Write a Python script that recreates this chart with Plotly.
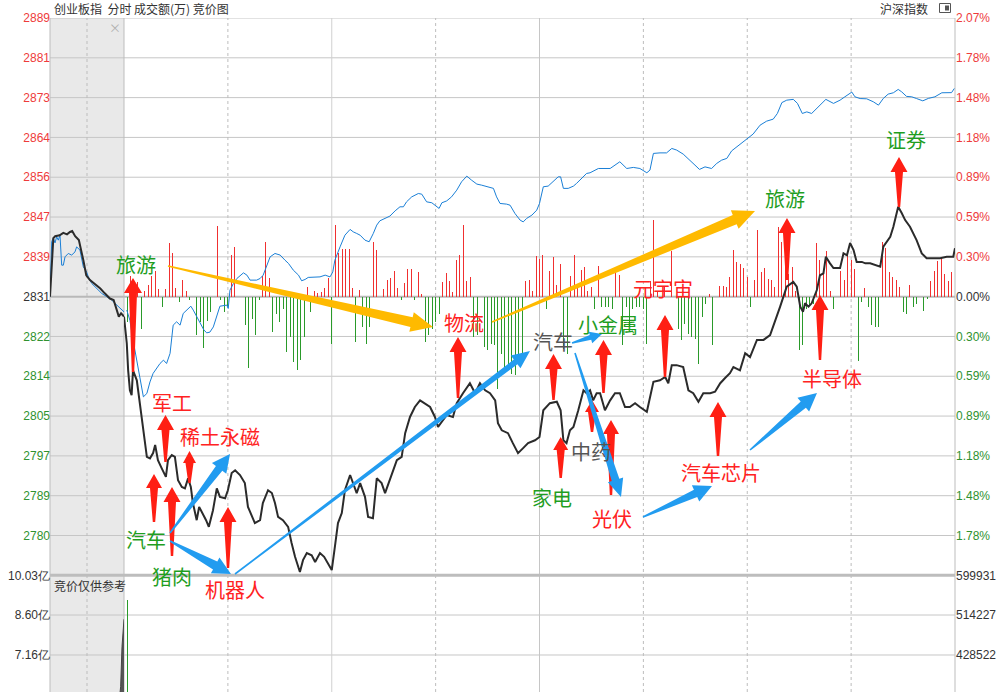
import math
import plotly.graph_objects as go

# ---------------- data ----------------
left_ticks = ["2889", "2881", "2873", "2864", "2856", "2847", "2839", "2831",
              "2822", "2814", "2805", "2797", "2789", "2780"]
right_ticks = ["2.07%", "1.78%", "1.48%", "1.18%", "0.89%", "0.59%", "0.30%", "0.00%",
               "0.30%", "0.59%", "0.89%", "1.18%", "1.48%", "1.78%"]
vol_left_ticks = ["10.03亿", "8.60亿", "7.16亿", "5.73亿"]
vol_left_vals = [10.03, 8.60, 7.16, 5.73]
vol_right_ticks = ["599931", "514227", "428522", "342818"]
vol_right_vals = [599931, 514227, 428522, 342818]

PREV_CLOSE = 2831.0
PRICE_STEP = 8.37
PCT_STEP = 0.296

# ChiNext index during call auction (minutes after 9:15, price)
cyb_auction = [(0, 2831.0), (0.2, 2837.6), (0.45, 2843.3), (0.7, 2843.7), (1.3, 2843.9),
               (1.8, 2844.4), (2.3, 2844.1), (2.7, 2844.6), (3.0, 2844.8), (3.4, 2843.7),
               (3.9, 2842.9), (4.5, 2838.7), (4.9, 2835.5), (5.4, 2834.5), (6.3, 2833.4),
               (6.8, 2832.7), (7.4, 2831.7), (8.1, 2830.6), (8.6, 2830.3), (9.0, 2828.2),
               (9.3, 2826.8), (9.6, 2827.5), (10.0, 2826.8)]
# reference index during call auction (minutes after 9:15, % change)
hs_auction = [(0, 0.0), (0.23, 0.41), (0.45, 0.435), (0.68, 0.40), (0.9, 0.445), (1.12, 0.42),
              (1.35, 0.457), (1.58, 0.234), (1.8, 0.234), (2.03, 0.296), (2.47, 0.321),
              (2.93, 0.309), (3.38, 0.333), (3.6, 0.37), (4.05, 0.346), (4.5, 0.222),
              (4.96, 0.184), (5.18, 0.147), (5.64, 0.098), (6.31, 0.061), (6.99, 0.024),
              (7.66, 0.0), (8.34, -0.026), (8.78, -0.05), (9.23, -0.076), (9.69, -0.10),
              (10.0, -0.113)]

# ChiNext index in trading session (minute index 0..240, price)
cyb_trade = [(0, 2826.8), (0.3, 2825.0), (0.8, 2821.2), (1.2, 2815.5), (1.7, 2811.3), (2.2, 2810.3),
             (2.6, 2815.5), (3.7, 2813.4), (4.6, 2808.6), (5.5, 2802.9), (6.6, 2797.3), (7.5, 2797.0),
             (8.4, 2798.1), (9.0, 2799.8), (9.8, 2796.6), (10.9, 2794.9), (12.1, 2793.1), (12.7, 2796.6),
             (13.8, 2797.7), (14.7, 2797.3), (15.6, 2792.4), (16.7, 2791.0), (17.6, 2790.7), (18.5, 2792.8),
             (19.3, 2791.0), (19.9, 2787.6), (21.0, 2784.0), (21.7, 2786.8), (22.7, 2785.5), (23.7, 2784.0),
             (24.5, 2782.6), (25.7, 2786.1), (26.8, 2790.7), (27.7, 2788.9), (29.2, 2788.6), (30.0, 2790.3),
             (31.1, 2793.9), (32.1, 2794.5), (33.5, 2793.5), (34.9, 2791.8), (35.8, 2786.8), (36.9, 2784.7),
             (37.8, 2783.4), (39.3, 2784.0), (40.1, 2787.6), (41.6, 2790.3), (42.7, 2789.7), (43.6, 2787.6),
             (44.5, 2784.7), (45.9, 2784.0), (47.4, 2782.6), (48.4, 2779.2), (49.4, 2776.3), (50.8, 2773.1),
             (51.7, 2775.6), (52.8, 2777.1), (54.2, 2776.6), (55.2, 2775.2), (56.6, 2777.1), (57.8, 2776.3),
             (58.9, 2775.0), (60.0, 2773.5), (60.9, 2778.4), (61.8, 2783.4), (62.9, 2785.5), (63.8, 2790.3),
             (65.3, 2793.5), (66.1, 2791.8), (67.2, 2789.7), (68.2, 2791.8), (69.6, 2788.9), (70.5, 2784.7),
             (71.9, 2784.4), (73.0, 2792.8), (74.4, 2791.8), (75.4, 2789.7), (76.8, 2792.4), (78.8, 2796.6),
             (80.2, 2797.3), (81.2, 2802.3), (82.6, 2805.7), (84.0, 2807.8), (85.5, 2809.2), (86.9, 2808.6),
             (88.4, 2807.8), (89.8, 2805.7), (90.7, 2803.6), (91.8, 2804.7), (93.2, 2806.1), (95.0, 2805.7),
             (96.1, 2808.6), (97.9, 2810.7), (99.9, 2812.8), (101.4, 2810.7), (102.8, 2812.8), (104.3, 2811.3),
             (105.7, 2810.7), (107.2, 2809.2), (108.0, 2804.4), (109.1, 2802.9), (110.9, 2802.3), (112.3, 2800.2),
             (113.8, 2798.1), (115.2, 2799.1), (116.7, 2800.2), (118.7, 2800.8), (119.6, 2801.2), (120.0, 2801.5),
             (121.1, 2807.1), (123.0, 2808.6), (125.0, 2808.9), (126.1, 2807.1), (126.9, 2800.8), (127.8, 2800.2),
             (128.8, 2802.9), (129.8, 2803.6), (131.2, 2807.1), (132.7, 2811.3), (133.6, 2810.7), (134.6, 2811.3),
             (135.5, 2809.2), (136.5, 2810.7), (137.5, 2810.7), (138.9, 2807.1), (140.4, 2809.2), (141.8, 2810.7),
             (143.2, 2810.7), (144.7, 2807.8), (146.1, 2807.8), (147.6, 2808.6), (149.0, 2807.8), (151.0, 2806.8),
             (152.9, 2813.1), (154.8, 2813.4), (156.3, 2814.1), (157.2, 2812.8), (158.2, 2816.6), (159.6, 2816.6),
             (161.5, 2816.2), (163.0, 2811.3), (164.4, 2810.7), (165.9, 2808.9), (167.3, 2810.7), (169.3, 2810.7),
             (170.7, 2811.0), (172.2, 2812.8), (173.6, 2813.9), (175.0, 2814.9), (176.0, 2816.2), (177.9, 2815.5),
             (179.4, 2819.1), (180.8, 2818.3), (182.8, 2821.9), (184.7, 2821.9), (186.6, 2822.9), (188.5, 2826.7),
             (189.5, 2828.9), (191.4, 2833.1), (193.3, 2834.1), (194.3, 2833.1), (195.3, 2828.9), (196.1, 2827.8),
             (196.7, 2829.6), (197.7, 2828.9), (198.6, 2829.6), (200.1, 2832.4), (201.0, 2835.5), (202.0, 2835.9),
             (202.7, 2839.4), (203.9, 2838.0), (204.9, 2837.0), (206.8, 2837.0), (207.8, 2840.1), (208.8, 2839.7),
             (209.7, 2842.3), (210.7, 2840.8), (211.6, 2838.3), (213.1, 2838.3), (214.1, 2838.0), (215.5, 2838.0),
             (217.4, 2837.6), (218.4, 2837.3), (219.3, 2841.5), (221.3, 2843.6), (222.2, 2845.7), (223.6, 2849.9),
             (224.6, 2848.6), (225.6, 2847.1), (227.0, 2845.7), (228.9, 2842.9), (230.4, 2840.1), (231.8, 2839.1),
             (235.7, 2839.1), (237.6, 2839.4), (239.5, 2839.4), (240.0, 2841.2)]

# reference index in trading session (minute index, % change)
hs_trade = [(0.8, -0.10), (1.7, -0.175), (2.6, -0.32), (3.7, -0.47), (4.6, -0.584), (5.6, -0.745),
            (6.6, -0.72), (7.5, -0.634), (8.4, -0.571), (9.4, -0.534), (10.4, -0.497), (11.4, -0.472),
            (12.3, -0.497), (13.3, -0.422), (13.8, -0.311), (14.2, -0.212), (15.2, -0.187), (16.2, -0.212),
            (17.1, -0.125), (18.1, -0.10), (19.3, -0.071), (20.0, -0.10), (21.0, -0.15), (21.9, -0.20),
            (23.1, -0.249), (23.9, -0.269), (24.8, -0.264), (25.8, -0.225), (26.8, -0.138), (27.7, -0.071),
            (29.7, -0.063), (30.1, -0.088), (30.6, 0.048), (31.6, 0.098), (32.6, 0.135), (34.5, 0.177),
            (35.5, 0.16), (36.4, 0.123), (38.3, 0.123), (39.3, 0.135), (40.2, 0.16), (41.2, 0.222),
            (42.2, 0.296), (43.6, 0.321), (45.1, 0.309), (46.5, 0.271), (47.5, 0.247), (48.9, 0.197),
            (50.4, 0.16), (51.3, 0.118), (52.3, 0.128), (53.2, 0.143), (55.2, 0.147), (56.6, 0.147),
            (58.1, 0.16), (59.5, 0.147), (60.3, 0.184), (60.9, 0.271), (62.4, 0.37), (63.8, 0.457),
            (65.3, 0.50), (66.2, 0.482), (67.2, 0.47), (68.2, 0.457), (69.6, 0.42), (70.8, 0.408),
            (72.0, 0.47), (73.0, 0.532), (73.9, 0.564), (75.4, 0.582), (76.8, 0.599), (78.3, 0.638),
            (79.7, 0.668), (80.7, 0.668), (81.6, 0.705), (83.1, 0.742), (85.0, 0.767), (86.0, 0.762),
            (87.4, 0.705), (88.9, 0.698), (89.8, 0.68), (91.0, 0.656), (91.8, 0.698), (93.2, 0.712),
            (94.6, 0.742), (96.1, 0.792), (97.5, 0.854), (99.0, 0.896), (100.4, 0.866), (101.9, 0.837),
            (103.3, 0.829), (104.8, 0.817), (106.7, 0.805), (107.6, 0.742), (108.6, 0.693), (110.5, 0.688),
            (111.5, 0.68), (112.9, 0.619), (114.4, 0.569), (115.3, 0.556), (116.3, 0.582), (117.8, 0.606),
            (119.2, 0.643), (120.0, 0.693), (121.1, 0.817), (122.5, 0.822), (124.0, 0.854), (125.4, 0.891),
            (126.1, 0.891), (126.9, 0.805), (128.3, 0.805), (129.8, 0.822), (130.7, 0.842), (132.2, 0.879),
            (133.6, 0.916), (134.6, 0.921), (137.0, 0.953), (140.4, 0.953), (143.2, 1.003), (145.2, 0.953),
            (147.1, 0.961), (149.0, 0.953), (151.0, 0.921), (151.9, 0.941), (152.9, 1.065), (154.8, 1.069),
            (156.7, 1.069), (158.2, 1.102), (159.6, 1.09), (161.5, 1.06), (163.5, 1.015), (164.9, 0.978),
            (166.2, 0.946), (167.8, 0.965), (169.7, 0.953), (171.2, 0.991), (172.6, 1.015), (174.1, 1.028),
            (175.5, 1.084), (177.0, 1.114), (178.9, 1.151), (180.6, 1.184), (181.7, 1.209), (183.7, 1.275),
            (185.6, 1.305), (187.5, 1.32), (188.7, 1.362), (190.0, 1.443), (191.4, 1.461), (193.3, 1.467),
            (194.5, 1.437), (195.9, 1.362), (197.2, 1.374), (198.6, 1.362), (200.1, 1.40), (201.5, 1.437),
            (202.7, 1.467), (204.9, 1.437), (206.8, 1.461), (208.2, 1.486), (210.2, 1.521), (211.1, 1.486),
            (212.6, 1.473), (214.5, 1.471), (216.4, 1.449), (217.9, 1.424), (219.3, 1.474), (220.7, 1.506),
            (222.2, 1.516), (223.6, 1.541), (224.6, 1.523), (226.0, 1.489), (227.5, 1.486), (228.9, 1.473),
            (230.7, 1.456), (232.3, 1.474), (234.2, 1.486), (236.2, 1.516), (239.0, 1.517), (239.8, 1.548)]

# per-minute net bars (+ red / - green), minute 0..240
net = [0, -25, 21, 14, 15, -32, 6, 12, 21, 26, 8, -10, 8, 54, 44, 9, -5, 17, 6, -3,
       0, -38, -25, -51, -24, -15, 0, 71, -3, -15, -9, 42, 50, 0, 0, -28, -71, -22, -38, -3,
       21, 55, 19, -35, -17, -25, -12, -55, -40, -65, -73, -63, -40, 10, -15, 6, 4, 5, 9, 19,
       -47, 72, 44, 48, 48, 48, 9, -45, 7, -30, -47, -30, 55, 47, 0, 8, 17, 19, 26, 9,
       -3, 14, 28, 28, -3, 25, 3, -45, -38, -32, -25, -17, 15, 24, 16, 5, 37, 42, 72, 16,
       20, -40, -38, 0, -50, -53, -47, -48, -92, -57, -70, -70, -77, -78, -60, -57, 16, 17, 6, 41,
       38, 42, -12, 26, 40, 12, 33, -52, -57, 21, 42, 13, 27, 30, 6, 10, -12, 31, -10, -10,
       -10, -12, 28, 22, -48, -10, -30, -12, -10, -10, -12, -47, 16, 77, 6, 0, 10, 0, 46, 0,
       -32, -43, -27, -37, -40, -42, -67, -20, -7, 3, -48, 0, 11, 11, 10, 20, 47, 35, 33, 29,
       20, -10, 17, 67, 25, 29, 18, 17, 10, 70, 55, 33, 23, 30, 6, -53, -48, -12, -8, -7,
       54, 37, 23, 46, 6, -12, 0, 26, 17, 44, 37, 28, -64, -5, 9, -10, -28, -30, -30, 55,
       49, 25, 20, 17, 10, -15, -17, 12, -10, -7, 0, -14, -2, 16, 26, 36, 40, 23, 16, 25, 75]

# auction turnover (亿) and trading minute volume
auc_vol_t = [9.35, 9.55, 9.73, 9.9, 10.0]
auc_vol = [5.5, 6.03, 7.46, 8.36, 8.45]
vol_m = [1]
vol_v = [546743]

# annotation labels: (text, px, py, colour key)
labels = [("旅游", 136, 264, "g"), ("军工", 172, 402, "r"), ("稀土永磁", 220, 436, "r"),
          ("汽车", 146, 539, "g"), ("猪肉", 172, 576, "g"), ("机器人", 235, 589, "r"),
          ("物流", 464, 322, "r"), ("汽车", 553, 342, "k"), ("小金属", 608, 324, "g"),
          ("元宇宙", 663, 289, "r"), ("中药", 591, 452, "k"), ("家电", 552, 498, "g"),
          ("光伏", 612, 518, "r"), ("汽车芯片", 721, 473, "r"), ("半导体", 832, 378, "r"),
          ("旅游", 785, 198, "g"), ("证券", 906, 139, "g")]

# ---------------- layout geometry ----------------
W, H = 1005, 692
ML, MR, MT, MB = 50, 50, 18, 0
PW, PH = W - ML - MR, H - MT - MB
SPLIT = 74 / PW                     # auction area width fraction
MAIN_BOT = (H - 575.3) / PH         # main panel bottom (paper)

RED = "#ee3b3b"
GREEN = "#2f922f"
DARK = "#333333"
LBL = {"g": "#1f9e1f", "r": "#ff2222", "k": "#555555"}


def px2paper(px, py):
    return (px - ML) / PW, (H - MB - py) / PH


def arrow_path(x0, y0, x1, y1, w0, w1, hw, hl):
    dx, dy = x1 - x0, y1 - y0
    L = math.hypot(dx, dy)
    ux, uy = dx / L, dy / L
    nx, ny = -uy, ux
    bx, by = x1 - ux * hl, y1 - uy * hl
    pts = [(x0 + nx * w0, y0 + ny * w0), (bx + nx * w1, by + ny * w1), (bx + nx * hw, by + ny * hw),
           (x1, y1), (bx - nx * hw, by - ny * hw), (bx - nx * w1, by - ny * w1),
           (x0 - nx * w0, y0 - ny * w0)]
    out = []
    for p in pts:
        a, b = px2paper(*p)
        out.append(f"{a:.5f},{b:.5f}")
    return "M " + " L ".join(out) + " Z"


fig = go.Figure()

# helper traces to create main subplots
fig.add_trace(go.Scatter(x=[], y=[], xaxis="x", yaxis="y", hoverinfo="skip"))
fig.add_trace(go.Scatter(x=[], y=[], xaxis="x2", yaxis="y5", hoverinfo="skip"))

# bars
fig.add_trace(go.Bar(x=list(range(len(net))), y=net, xaxis="x2", yaxis="y", width=0.29,
                     marker=dict(color=["#f03030" if v > 0 else "#2a9a2a" for v in net],
                                 line=dict(width=0)), hoverinfo="skip"))
# blue reference index
fig.add_trace(go.Scatter(x=[a for a, _ in hs_auction], y=[b for _, b in hs_auction],
                         xaxis="x", yaxis="y2", mode="lines",
                         line=dict(color="#1a7fd6", width=1)))
fig.add_trace(go.Scatter(x=[a for a, _ in hs_trade], y=[b for _, b in hs_trade],
                         xaxis="x2", yaxis="y2", mode="lines",
                         line=dict(color="#1a7fd6", width=1)))
# black ChiNext
fig.add_trace(go.Scatter(x=[a for a, _ in cyb_auction], y=[b for _, b in cyb_auction],
                         xaxis="x", yaxis="y3", mode="lines",
                         line=dict(color="#2b2b2b", width=2)))
fig.add_trace(go.Scatter(x=[a for a, _ in cyb_trade], y=[b for _, b in cyb_trade],
                         xaxis="x2", yaxis="y3", mode="lines",
                         line=dict(color="#2b2b2b", width=2)))
# lower panel
fig.add_trace(go.Scatter(x=auc_vol_t, y=auc_vol, xaxis="x", yaxis="y5", mode="lines",
                         fill="tozeroy", fillcolor="#555555", line=dict(color="#444444", width=1)))
fig.add_trace(go.Bar(x=vol_m, y=vol_v, xaxis="x2", yaxis="y6", width=0.32,
                     marker=dict(color="#2a9a2a", line=dict(width=0))))


def col(t, c):
    return f'<span style="color:{c}">{t}</span>'


left_text = [col(t, RED) if i < 7 else (col(t, DARK) if i == 7 else col(t, GREEN))
             for i, t in enumerate(left_ticks)]
right_text = [col(t, RED) if i < 7 else (col(t, DARK) if i == 7 else col(t, GREEN))
              for i, t in enumerate(right_ticks)]

tickfont = dict(family="Liberation Sans, Arial", size=12, color=DARK)
half_bar = (1 - MAIN_BOT) * PH / 2
lower_px = MAIN_BOT * PH

common_y = dict(showgrid=False, zeroline=False, showline=False, fixedrange=True)
fig.update_layout(
    width=W, height=H, autosize=False, showlegend=False,
    margin=dict(l=ML, r=MR, t=MT, b=MB, pad=0),
    paper_bgcolor="white", plot_bgcolor="rgba(0,0,0,0)",
    bargap=0,
    xaxis=dict(domain=[0, SPLIT], range=[0, 10], visible=False, anchor="y", fixedrange=True),
    xaxis2=dict(domain=[SPLIT, 1], range=[0, 240], visible=False, anchor="y", fixedrange=True),
    yaxis=dict(domain=[MAIN_BOT, 1], range=[-half_bar, half_bar], showticklabels=False,
               anchor="x", **common_y),
    yaxis2=dict(overlaying="y", range=[-7 * PCT_STEP, 7 * PCT_STEP], side="right",
                anchor="free", position=1,
                tickvals=[(7 - i) * PCT_STEP for i in range(14)], ticktext=right_text,
                tickfont=tickfont, ticks="", **common_y),
    yaxis3=dict(overlaying="y", range=[PREV_CLOSE - 7 * PRICE_STEP, PREV_CLOSE + 7 * PRICE_STEP],
                side="left", anchor="free", position=0,
                tickvals=[PREV_CLOSE + (7 - i) * PRICE_STEP for i in range(14)], ticktext=left_text,
                tickfont=tickfont, ticks="", **common_y),
    yaxis5=dict(domain=[0, MAIN_BOT],
                range=[10.03 - lower_px / 39.8 * 1.4333, 10.03], side="left", anchor="free", position=0,
                tickvals=vol_left_vals, ticktext=vol_left_ticks, tickfont=tickfont, ticks="", **common_y),
    yaxis6=dict(overlaying="y5", range=[599931 - lower_px / 39.8 * 85704.5, 599931], side="right",
                anchor="free", position=1,
                tickvals=vol_right_vals, ticktext=vol_right_ticks, tickfont=tickfont, ticks="", **common_y),
)

shapes = []
GRID = "#c6c6c6"
# auction shading
shapes.append(dict(type="rect", xref="paper", yref="paper", x0=0, x1=SPLIT, y0=0, y1=1,
                   fillcolor="#e9e9e9", line=dict(width=0), layer="below"))
# horizontal grid (main)
for k in range(-6, 8):
    if k == 0:
        continue
    shapes.append(dict(type="line", xref="paper", yref="y3", x0=0, x1=1,
                       y0=PREV_CLOSE + k * PRICE_STEP, y1=PREV_CLOSE + k * PRICE_STEP,
                       line=dict(color=GRID, width=1), layer="below"))
shapes.append(dict(type="line", xref="paper", yref="y3", x0=0, x1=1, y0=PREV_CLOSE, y1=PREV_CLOSE,
                   line=dict(color="#b8b8b8", width=2), layer="below"))
# lower grid
for v in vol_left_vals[1:3]:
    shapes.append(dict(type="line", xref="paper", yref="y5", x0=0, x1=1, y0=v, y1=v,
                       line=dict(color=GRID, width=1), layer="below"))
# vertical lines
shapes.append(dict(type="line", xref="x", yref="paper", x0=5, x1=5, y0=0, y1=1,
                   line=dict(color="#bdbdbd", width=1, dash="dot"), layer="below"))
for m, style in [(30, "dot"), (60, "solid"), (90, "dot"), (120, "solid"),
                 (150, "dot"), (180, "dot"), (210, "dot")]:
    c = "#d0d0d0" if (style == "solid" and m == 60) else ("#bdbdbd" if style == "dot" else GRID)
    shapes.append(dict(type="line", xref="x2", yref="paper", x0=m, x1=m, y0=0, y1=1,
                       line=dict(color=c, width=1, dash=style), layer="below"))
for xp in (0, SPLIT, 1):
    shapes.append(dict(type="line", xref="paper", yref="paper", x0=xp, x1=xp, y0=0, y1=1,
                       line=dict(color="#bdbdbd", width=1), layer="below"))
# separator between panels
shapes.append(dict(type="line", xref="paper", yref="paper", x0=0, x1=1, y0=MAIN_BOT, y1=MAIN_BOT,
                   line=dict(color="#bdbdbd", width=3), layer="below"))

# red arrows (x, tip_y, base_y, head half width, head length)
red_arrows = [(133, 278, 372, 9, 15), (165.5, 415, 462, 8.5, 15), (189.5, 451, 483, 6.5, 12),
              (154, 474, 522, 8, 14), (172, 487, 556, 8.5, 15), (228, 507, 568, 8.5, 15),
              (458, 337, 398, 8.5, 15), (553.5, 354, 400, 8.5, 15), (603.5, 340, 393, 8.5, 15),
              (665, 315, 377, 8.5, 15), (560.7, 437, 478, 7.5, 13), (592, 400, 432, 7, 12),
              (611, 420, 495, 8, 14), (718, 402, 456, 8.5, 15), (787, 218, 280, 8.5, 15),
              (820, 295, 360, 8.5, 15), (899, 157, 207, 8.5, 15)]
for x, ty, by, hw, hl in red_arrows:
    shapes.append(dict(type="path", xref="paper", yref="paper",
                       path=arrow_path(x, by, x, ty, 1.2, 4, hw, hl),
                       fillcolor="#ff1f14", line=dict(width=0), layer="above"))

# blue arrows
blue_arrows = [((170, 533), (230, 454), 0.8, 4, 9, 18), ((170, 541), (231, 574), 0.8, 4.5, 9, 18),
               ((235, 574), (530, 351), 0.8, 3, 8, 18), ((572, 343), (602, 334), 0.8, 2.5, 6, 12),
               ((575, 353), (621, 497), 0.8, 4, 8, 18), ((643, 517), (712, 486), 0.8, 4, 9, 18),
               ((750, 450), (817, 393), 0.8, 4, 9, 18)]
for (x0, y0), (x1, y1), w0, w1, hw, hl in blue_arrows:
    shapes.append(dict(type="path", xref="paper", yref="paper",
                       path=arrow_path(x0, y0, x1, y1, w0, w1, hw, hl),
                       fillcolor="#229cf0", line=dict(width=0), layer="above"))

# yellow arrows
yellow_arrows = [((168, 266), (433, 327), 0.8, 5, 10, 22), ((492, 322), (755, 211), 0.8, 5, 10, 22)]
for (x0, y0), (x1, y1), w0, w1, hw, hl in yellow_arrows:
    shapes.append(dict(type="path", xref="paper", yref="paper",
                       path=arrow_path(x0, y0, x1, y1, w0, w1, hw, hl),
                       fillcolor="#ffba00", line=dict(width=0), layer="above"))

# top-right icon
a0, b0 = px2paper(939.5, 3.5)
a1, b1 = px2paper(950.5, 12.5)
shapes.append(dict(type="rect", xref="paper", yref="paper", x0=a0, x1=a1, y0=b1, y1=b0,
                   line=dict(color="#555555", width=1), fillcolor="white"))
a0, b0 = px2paper(945, 5.5)
a1, b1 = px2paper(949, 10.5)
shapes.append(dict(type="rect", xref="paper", yref="paper", x0=a0, x1=a1, y0=b1, y1=b0,
                   line=dict(width=0), fillcolor="#555555"))

fig.update_layout(shapes=shapes)

annotations = []
CJK = "Noto Sans CJK SC"
for text, px, py, c in labels:
    xa, ya = px2paper(px, py)
    annotations.append(dict(text=text, x=xa, y=ya, xref="paper", yref="paper", showarrow=False,
                            xanchor="center", yanchor="middle",
                            font=dict(family=CJK, size=20, color=LBL[c])))
for text, px, py, anchor, color in [("创业板指  分时 成交额(万) 竞价图", 52, 8, "left", DARK),
                                     ("沪深指数", 904, 8, "center", DARK),
                                     ("×", 115, 28, "center", "#b0b0b0"),
                                     ("竞价仅供参考", 52, 585, "left", DARK)]:
    xa, ya = px2paper(px, py)
    annotations.append(dict(text=text, x=xa, y=ya, xref="paper", yref="paper", showarrow=False,
                            xanchor=anchor, yanchor="middle",
                            font=dict(family=CJK, size=12, color=color)))
fig.update_layout(annotations=annotations)

fig.write_html("out.html", config={"displayModeBar": False, "staticPlot": True},
               post_script="document.body.style.margin='0';document.body.style.overflow='hidden';")
